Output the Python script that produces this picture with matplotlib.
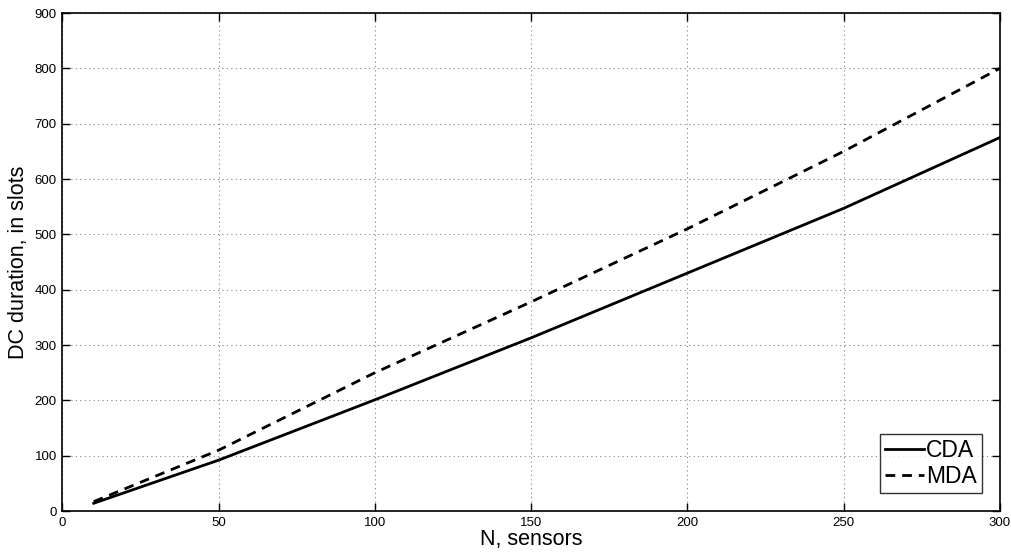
import numpy as np
import matplotlib
matplotlib.use('Agg')
from matplotlib import pyplot as plt

plt.rcParams['font.family'] = ['Liberation Sans', 'DejaVu Sans']

# data
n_sensors = [10, 50, 100, 150, 200, 250, 300]
cda = [14, 92, 201, 313, 430, 547, 675]
mda = [17, 110, 250, 378, 510, 650, 800]

x_ticks = [0, 50, 100, 150, 200, 250, 300]
y_ticks = [0, 100, 200, 300, 400, 500, 600, 700, 800, 900]

fig = plt.figure(figsize=(10.11, 5.54), dpi=100)
ax = fig.add_axes([0.0618, 0.0776, 0.9272, 0.8989])

ax.plot(n_sensors, cda, color='black', linewidth=2.0, linestyle='-', label='CDA')
ax.plot(n_sensors, mda, color='black', linewidth=2.0, linestyle=(0, (3.5, 2.5)), label='MDA')

ax.set_xlim(0, 300)
ax.set_ylim(0, 900)
ax.set_xticks(x_ticks)
ax.set_yticks(y_ticks)
ax.tick_params(direction='in', length=6, width=1, top=True, right=True, labelsize=9.5, pad=4)
ax.grid(True, linestyle=(0, (1, 3)), color='#808080', linewidth=0.8)
for s in ax.spines.values():
    s.set_linewidth(1.2)

ax.set_xlabel('N, sensors', fontsize=15.5, labelpad=0)
ax.set_ylabel('DC duration, in slots', fontsize=15.5, labelpad=4)

leg = ax.legend(loc='lower right', fontsize=16.5, frameon=True, fancybox=False,
                edgecolor='black', handlelength=1.7, handletextpad=0.1,
                borderpad=0.2, labelspacing=0.15, borderaxespad=0.8)
leg.get_frame().set_linewidth(1.0)

fig.savefig('out.png', dpi=100)
